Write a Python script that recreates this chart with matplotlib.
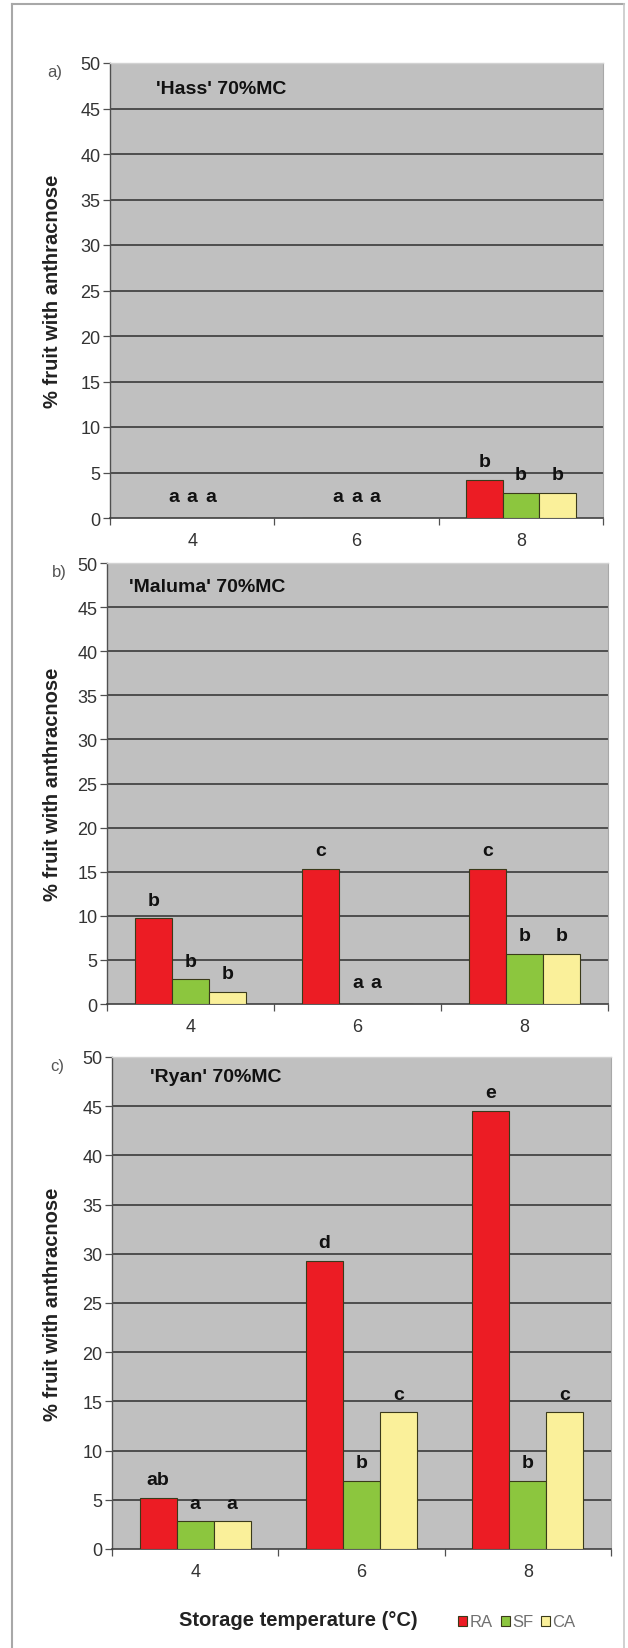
import matplotlib
matplotlib.use("Agg")
import matplotlib.pyplot as plt
from matplotlib.lines import Line2D
import numpy as np

plt.rcParams['font.family'] = ['Liberation Sans', 'DejaVu Sans']

# ---------------- data ----------------
temps = ['4', '6', '8']
series = ['RA', 'SF', 'CA']

hass_RA = [0.0, 0.0, 4.2]
hass_SF = [0.0, 0.0, 2.8]
hass_CA = [0.0, 0.0, 2.8]
hass_RA_sig = ['a', 'a', 'b']
hass_SF_sig = ['a', 'a', 'b']
hass_CA_sig = ['a', 'a', 'b']

maluma_RA = [9.7, 15.3, 15.3]
maluma_SF = [2.8, 0.0, 5.7]
maluma_CA = [1.4, 0.0, 5.7]
maluma_RA_sig = ['b', 'c', 'c']
maluma_SF_sig = ['b', 'a', 'b']
maluma_CA_sig = ['b', 'a', 'b']

ryan_RA = [5.2, 29.3, 44.5]
ryan_SF = [2.8, 6.9, 6.9]
ryan_CA = [2.8, 13.9, 13.9]
ryan_RA_sig = ['ab', 'd', 'e']
ryan_SF_sig = ['a', 'b', 'b']
ryan_CA_sig = ['a', 'c', 'c']

panel_tags = ['a)', 'b)', 'c)']
panel_titles = ["'Hass' 70%MC", "'Maluma' 70%MC", "'Ryan' 70%MC"]
y_label = '% fruit with anthracnose'
x_label = 'Storage temperature (\u00b0C)'
y_ticks = list(range(0, 51, 5))

# ---------------- styling ----------------
W, H = 628, 1649
colors = {'RA': '#EC1C24', 'SF': '#8CC63E', 'CA': '#FAF09A'}
plot_bg = '#C0C0C0'
bar_w = 0.222

fig = plt.figure(figsize=(W / 100, H / 100), dpi=100)
fig.patch.set_facecolor('white')


def rect(l, r, t, b):
    return [l / W, 1 - b / H, (r - l) / W, (b - t) / H]


def fx(x):
    return x / W


def fy(y):
    return 1 - y / H


panels = [
    dict(vals=[hass_RA, hass_SF, hass_CA], sig=[hass_RA_sig, hass_SF_sig, hass_CA_sig],
         box=(110, 603, 64, 519), title_xy=(156, 89), tag_xy=(55, 73)),
    dict(vals=[maluma_RA, maluma_SF, maluma_CA], sig=[maluma_RA_sig, maluma_SF_sig, maluma_CA_sig],
         box=(107, 608, 564, 1005), title_xy=(129, 587), tag_xy=(59, 573)),
    dict(vals=[ryan_RA, ryan_SF, ryan_CA], sig=[ryan_RA_sig, ryan_SF_sig, ryan_CA_sig],
         box=(112, 611, 1058, 1550), title_xy=(150, 1077), tag_xy=(57, 1066)),
]

x = np.arange(len(temps))
offsets = [-bar_w, 0.0, bar_w]
handles = []

for i, p in enumerate(panels):
    l, r, t, b = p['box']
    ax = fig.add_axes(rect(l, r, t, b))
    ax.set_facecolor(plot_bg)
    ax.set_xlim(-0.5, len(temps) - 0.5)
    ax.set_ylim(0, 50)
    ax.set_axisbelow(True)

    for s, name in enumerate(series):
        vals = p['vals'][s]
        bars = ax.bar(x + offsets[s], vals, width=bar_w, color=colors[name],
                      edgecolor='#3a3a1a', linewidth=0.8, label=name, zorder=3)
        if i == 0:
            handles.append(bars)
        for k, v in enumerate(vals):
            xo = offsets[s] if v > 0 else offsets[s] * 0.5
            ax.annotate(p['sig'][s][k], (x[k] + xo, v), xytext=(0, 7 if v > 0 else 9),
                        textcoords='offset points', ha='center', va='bottom',
                        fontsize=14, fontweight='bold', color='#111111', zorder=4)

    # y axis
    ax.set_yticks(y_ticks)
    ax.set_yticklabels([str(v) for v in y_ticks])
    ax.yaxis.grid(True, color='#3a3a3a', linewidth=1.2, zorder=1)
    ax.get_ygridlines()[-1].set_visible(False)
    ax.get_ygridlines()[0].set_visible(False)
    ax.tick_params(axis='y', direction='out', length=5, width=0.9, color='#505050',
                   labelsize=13, labelcolor='#333333', pad=2)

    # x axis: ticks at category boundaries, labels at centres
    ax.set_xticks(np.arange(-0.5, len(temps), 1.0))
    ax.set_xticklabels([])
    ax.set_xticks(x, minor=True)
    ax.set_xticklabels(temps, minor=True)
    ax.tick_params(axis='x', which='major', direction='out', length=5, width=0.9, color='#505050')
    ax.tick_params(axis='x', which='minor', length=0, labelsize=13, labelcolor='#333333', pad=10)

    ax.spines['left'].set_color('#505050')
    ax.spines['bottom'].set_color('#404040')
    ax.spines['left'].set_linewidth(1.0)
    ax.spines['bottom'].set_linewidth(1.2)
    ax.spines['top'].set_color('#d2d2d2')
    ax.spines['right'].set_color('#a8a8a8')
    ax.spines['top'].set_linewidth(1.0)
    ax.spines['right'].set_linewidth(0.8)

    # cultivar title inside the plot
    tx, ty = p['title_xy']
    fig.text(fx(tx), fy(ty), panel_titles[i], ha='left', va='center',
             fontsize=14, fontweight='bold', color='#111111')
    # panel tag
    gx, gy = p['tag_xy']
    fig.text(fx(gx), fy(gy), panel_tags[i], ha='center', va='center',
             fontsize=12, color='#555555')
    # y label
    fig.text(fx(53), fy((t + b) / 2), y_label, rotation=90, ha='center', va='center',
             fontsize=14.5, fontweight='bold', color='#222222')

# x label and legend
fig.text(fx(298), fy(1621), x_label, ha='center', va='center',
         fontsize=14.5, fontweight='bold', color='#222222')
leg = fig.legend(handles, series, loc='center', bbox_to_anchor=(fx(517), fy(1623)),
                 ncol=3, frameon=False, fontsize=12, labelcolor='#707070',
                 handlelength=0.55, handleheight=0.55, handletextpad=0.15,
                 columnspacing=0.45, borderpad=0)

# page frame (left, top, right)
fig.add_artist(Line2D([fx(12), fx(12)], [fy(5), 0], color='#a8a8a8', lw=1.5))
fig.add_artist(Line2D([fx(12), fx(624)], [fy(5), fy(5)], color='#a8a8a8', lw=1.5))
fig.add_artist(Line2D([fx(624), fx(624)], [fy(5), 0], color='#c8c8c8', lw=1.2))

fig.savefig('out.png', dpi=100, facecolor='white')
